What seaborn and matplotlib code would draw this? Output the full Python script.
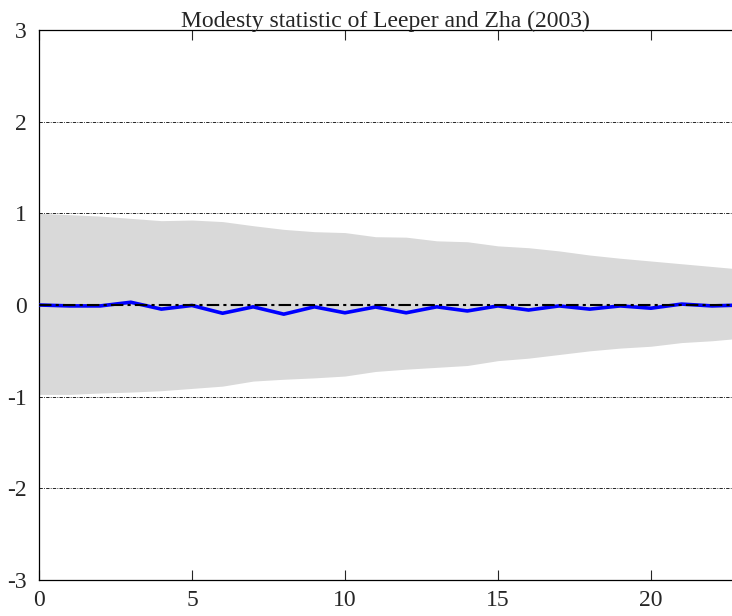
import numpy as np
import pandas as pd
import matplotlib
matplotlib.use("Agg")
import matplotlib.pyplot as plt
import seaborn as sns

TITLE = "Modesty statistic of Leeper and Zha (2003)"

# horizonte
horizon = list(range(0, 24))

# estatistica de modestia (linha azul)
modesty = [0.0, -0.01, -0.01, 0.03, -0.045, -0.005, -0.09, -0.02, -0.10, -0.02,
           -0.085, -0.022, -0.085, -0.02, -0.065, -0.01, -0.055, -0.01, -0.045,
           -0.01, -0.035, 0.01, -0.01, 0.0]

# banda (area cinza)
band_upper = [1.0, 0.985, 0.97, 0.945, 0.92, 0.927, 0.91, 0.865, 0.825, 0.80,
              0.79, 0.745, 0.74, 0.70, 0.69, 0.645, 0.625, 0.59, 0.545, 0.51,
              0.48, 0.45, 0.42, 0.39]
band_lower = [-0.975, -0.975, -0.96, -0.95, -0.935, -0.91, -0.885, -0.83, -0.81,
              -0.795, -0.775, -0.725, -0.70, -0.68, -0.66, -0.607, -0.58, -0.54,
              -0.50, -0.47, -0.45, -0.41, -0.39, -0.36]

X_TICKS = [0, 5, 10, 15, 20]
Y_TICKS = [-3, -2, -1, 0, 1, 2, 3]


def plot_modesty():
    df = pd.DataFrame({"h": horizon, "m": modesty,
                       "lo": band_lower, "hi": band_upper})

    fig = plt.figure(figsize=(7.32, 6.16), dpi=100)
    ax = fig.add_axes([39 / 732, 36 / 616, 1 - 39 / 732, 550 / 616])

    ax.fill_between(df["h"], df["lo"], df["hi"], color="#d9d9d9", lw=0, zorder=1)

    # grade pontilhada
    for y in [-2, -1, 1, 2]:
        ax.axhline(y, color="black", lw=0.6, ls=(0, (4, 1.5, 1, 1.5)), zorder=2)

    sns.lineplot(data=df, x="h", y="m", color="#0000ff", lw=2.6, ax=ax, zorder=4)
    ax.axhline(0, color="black", lw=1.5, ls=(0, (6, 2, 1.5, 2)), zorder=5)

    ax.set_xlim(0, 22.65)
    ax.set_ylim(-3, 3)
    ax.set_xticks(X_TICKS)
    ax.set_yticks(Y_TICKS)
    ax.set_xlabel("")
    ax.set_ylabel("")
    ax.set_title(TITLE, fontsize=17, pad=2)

    ax.tick_params(axis="x", direction="in", length=7, width=0.8,
                   top=True, bottom=True, labelsize=17, pad=7)
    ax.tick_params(axis="y", direction="in", length=0, labelsize=17, pad=9)
    for side in ["left", "bottom", "top"]:
        ax.spines[side].set_color("black")
        ax.spines[side].set_linewidth(0.9)
    ax.spines["right"].set_visible(False)
    ax.grid(False)

    fig.savefig("out.png", dpi=100)
    plt.close(fig)


if __name__ == "__main__":
    sns.set_theme(style="white")
    plt.rcParams["font.family"] = ["Liberation Serif", "DejaVu Serif"]
    plt.rcParams["axes.unicode_minus"] = False
    plot_modesty()
